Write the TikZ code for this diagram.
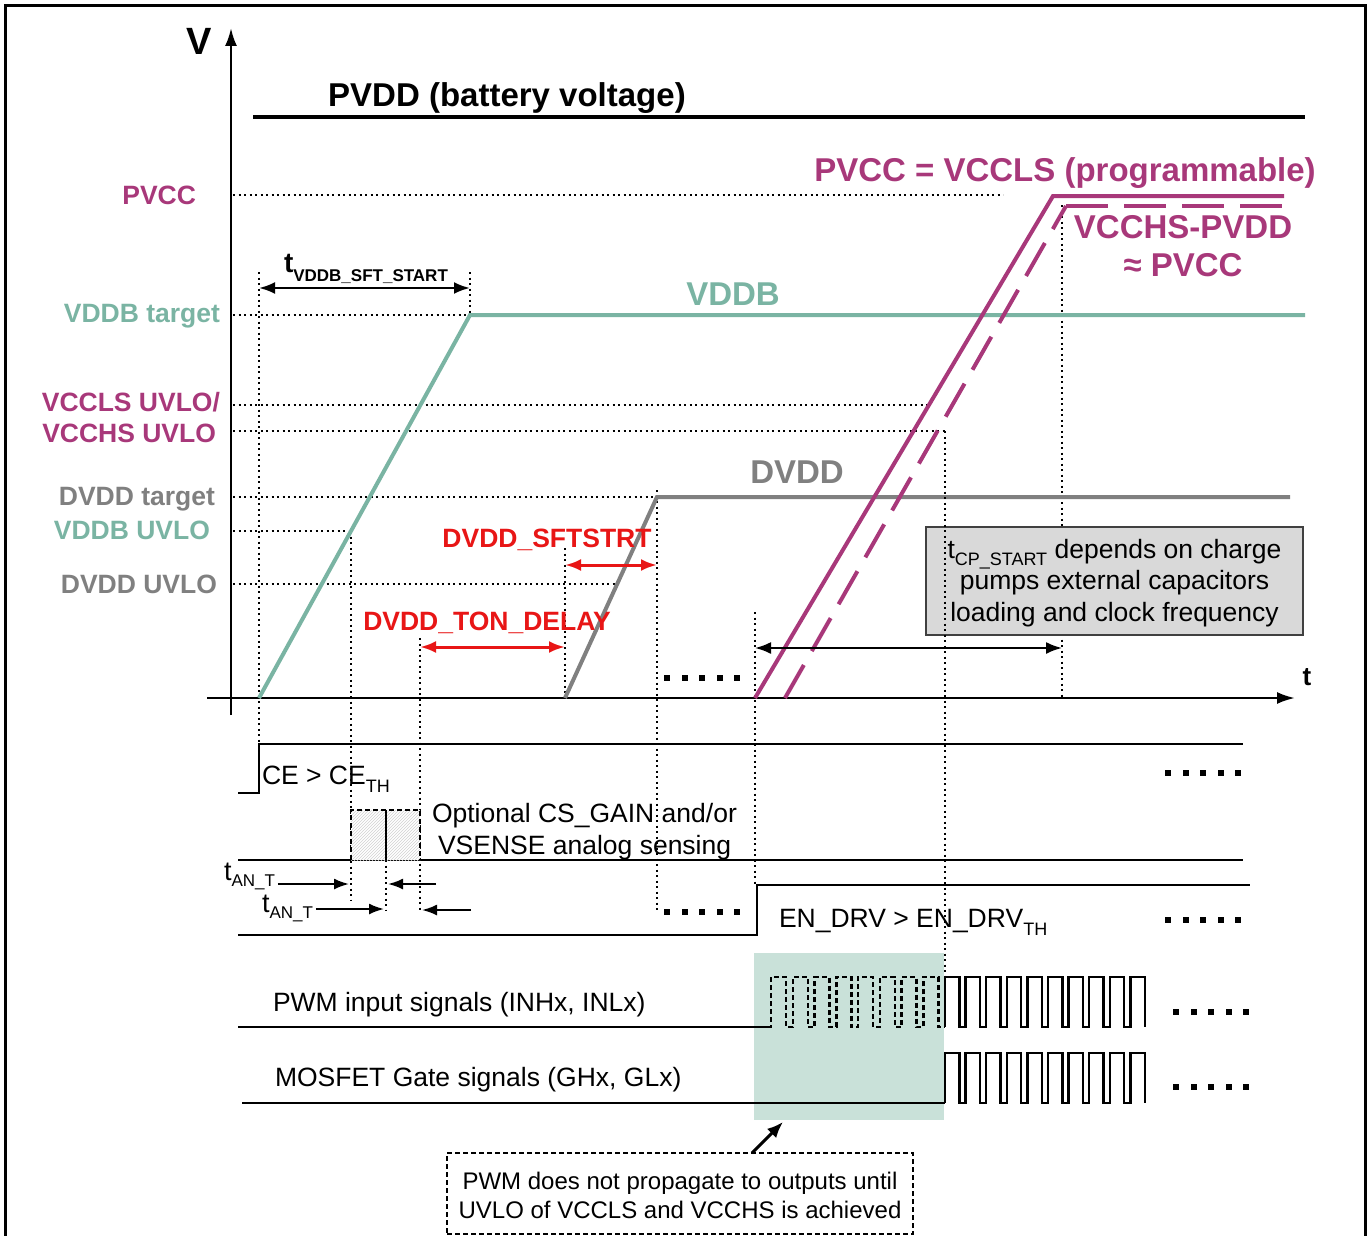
\documentclass[tikz,border=0pt]{standalone}
\usepackage{fontspec}
\setmainfont{Liberation Sans}
\usetikzlibrary{arrows.meta,patterns}
\definecolor{mag}{RGB}{168,56,122}
\definecolor{tealc}{RGB}{122,180,163}
\definecolor{dgray}{RGB}{128,128,128}
\definecolor{redc}{RGB}{232,22,22}
\definecolor{shadec}{RGB}{201,225,217}
\definecolor{boxgray}{RGB}{217,217,217}
\newcommand{\sbs}[1]{\raisebox{-0.28em}{\fontsize{18}{18}\selectfont #1}}
\begin{document}
\begin{tikzpicture}[x=1pt,y=-1pt,
  every node/.style={inner sep=0pt,outer sep=0pt},
  sig/.style={line width=2.8pt,line join=miter},
  dotl/.style={line width=2pt,dash pattern=on 2pt off 3.5pt},
  tdown/.style={yshift=-7pt},
  bigl/.style={font=\fontsize{33}{38}\selectfont\bfseries,tdown},
  lvl/.style={font=\fontsize{26.5}{30}\selectfont\bfseries,tdown},
  txt/.style={font=\fontsize{26.5}{31.5}\selectfont},
  tipa/.style={-{Latex[length=15pt,width=11pt]}},
  dtipa/.style={{Latex[length=16pt,width=12pt]}-{Latex[length=16pt,width=12pt]}},
]
\useasboundingbox (0,0) rectangle (1371,1236);
% frame
\draw[line width=3pt] (5,1236) -- (5,6) -- (1365,6) -- (1365,1236);

% shaded region
\fill[shadec] (754,953) rectangle (944,1120);

% key coordinates
\coordinate (v0) at (259,698); \coordinate (vtop) at (470,315); \coordinate (vend) at (1305,315);
\coordinate (d0) at (565,698); \coordinate (dtop) at (657,497); \coordinate (dend) at (1290,497);
\coordinate (p0) at (755,698); \coordinate (ptop) at (1053,196); \coordinate (pend) at (1284,196);
\coordinate (q0) at (785,698); \coordinate (qtop) at (1066,206); \coordinate (qend) at (1284,206);

% horizontal dotted level lines
\draw[dotl] (233,195) -- (1003,195);
\draw[dotl] (233,315) -- (470,315);
\draw[dotl] (233,405) -- (930,405);
\draw[dotl] (233,431) -- (945,431);
\draw[dotl] (233,497) -- (657,497);
\draw[dotl] (233,531) -- (351,531);
\draw[dotl] (233,584) -- (617,584);

% vertical dotted lines
\draw[dotl] (259,272) -- (259,744);
\draw[dotl] (470,272) -- (470,315);
\draw[dotl] (351,531) -- (351,900);
\draw[dotl] (386,860) -- (386,910);
\draw[dotl] (420,638) -- (420,912);
\draw[dotl] (565,548) -- (565,698);
\draw[dotl] (657,490) -- (657,912);
\draw[dotl] (755,612) -- (755,885);
\draw[dotl] (1062,205) -- (1062,698);

% axes
\draw[line width=2.5pt,-{Latex[length=18pt,width=12pt]}] (231,715) -- (231,28);
\draw[line width=2.5pt,-{Latex[length=18pt,width=12pt]}] (207,698) -- (1295,698);
\node[font=\fontsize{38}{40}\selectfont\bfseries,anchor=mid,yshift=-10pt] (vlab) at (199,42) {V};
\node[font=\fontsize{26}{28}\selectfont\bfseries,anchor=mid,tdown] (tlab) at (1307,676) {t};

% PVDD
\draw[line width=4pt] (253,117) -- (1305,117);
\node[bigl,anchor=mid] (pvdd) at (507,97) {PVDD (battery voltage)};

% ramps
\draw[tealc,line width=4pt,line join=miter] (v0) -- (vtop) -- (vend);
\draw[dgray,line width=4pt,line join=miter] (d0) -- (dtop) -- (dend);
\draw[mag,line width=4pt,line join=miter] (p0) -- (ptop) -- (pend);
\draw[mag,line width=4pt,dash pattern=on 38pt off 16pt] (q0) -- (qtop);
\draw[mag,line width=4pt,dash pattern=on 42pt off 16pt] (qtop) -- (qend);

% level labels
\node[lvl,mag,anchor=mid east] (lpvcc) at (196,195) {PVCC};
\node[lvl,tealc,anchor=mid east] (lvddbt) at (220,313) {VDDB target};
\node[lvl,mag,anchor=mid east] (lvccls) at (220,402) {VCCLS UVLO/};
\node[lvl,mag,anchor=mid east] (lvcchs) at (216,433) {VCCHS UVLO};
\node[lvl,dgray,anchor=mid east] (ldvddt) at (215,496) {DVDD target};
\node[lvl,tealc,anchor=mid east] (lvddbu) at (210,530) {VDDB UVLO};
\node[lvl,dgray,anchor=mid east] (ldvddu) at (217,584) {DVDD UVLO};

% curve labels
\node[bigl,mag,anchor=mid] (lprog) at (1065,172) {PVCC = VCCLS (programmable)};
\node[bigl,mag,anchor=mid] (lvcchsp) at (1183,229) {VCCHS-PVDD};
\node[bigl,mag,anchor=mid] (lapprox) at (1183,267) {≈ PVCC};
\node[bigl,tealc,anchor=mid] (lvddb) at (733,296) {VDDB};
\node[bigl,dgray,anchor=mid] (ldvdd) at (797,474) {DVDD};

% tVDDB_SFT_START
\coordinate (sa) at (259,288); \coordinate (sb) at (470,288);
\draw[line width=2.5pt,dtipa] (sa) -- (sb);
\node[font=\fontsize{28}{30}\selectfont\bfseries,anchor=mid west,yshift=-3pt] (ltv) at (284,267) {t\raisebox{-0.3em}{\fontsize{17}{17}\selectfont\bfseries VDDB\_SFT\_START}};

% red annotations
\node[lvl,redc,anchor=mid] (lsft) at (547,538) {DVDD\_SFTSTRT};
\node[lvl,redc,anchor=mid] (lton) at (487,621) {DVDD\_TON\_DELAY};
\coordinate (ra1) at (565,565); \coordinate (ra2) at (657,565);
\coordinate (rb1) at (420,647); \coordinate (rb2) at (565,647);
\draw[redc,line width=3pt,dtipa] (ra1) -- (ra2);
\draw[redc,line width=3pt,dtipa] (rb1) -- (rb2);

% tCP_START box
\node[draw=black!75,line width=2pt,fill=boxgray,minimum width=377pt,minimum height=108pt,anchor=center] (cpbox) at (1114.5,581) {};
\node[txt,align=center,anchor=center] (cptext) at (1114.5,583) {t\sbs{CP\_START} depends on charge\\pumps external capacitors\\loading and clock frequency};
\draw[dotl] (945,431) -- (945,1000);
\coordinate (ca1) at (755,648); \coordinate (ca2) at (1062,648);
\draw[line width=2pt,dtipa] (ca1) -- (ca2);

% continuation dots
\foreach \y/\x in {678/667, 912/667, 773/1168, 920/1168, 1012/1176, 1087/1176}{
  \foreach \i in {0,...,4}{
    \fill ({\x+17.5*\i-3},{\y-3}) rectangle ({\x+17.5*\i+3},{\y+3});
  }
}

% CE signal
\draw[sig] (238,793) -- (259,793) -- (259,744) -- (1243,744);
\node[txt,anchor=mid west,tdown] (lce) at (262,775) {CE > CE\sbs{TH}};

% analog sensing
\draw[sig] (238,860) -- (1243,860);
\fill[white] (351,810) rectangle (420,860);
\fill[pattern=north east lines,pattern color=black!18] (351,810) rectangle (420,860);
\draw[line width=2pt,dash pattern=on 5pt off 3pt] (351,860) -- (351,810) -- (420,810) -- (420,860);
\draw[line width=2.5pt] (386,810) -- (386,860);
\node[txt,anchor=mid west,tdown] (lopt1) at (432,813) {Optional CS\_GAIN and/or};
\node[txt,anchor=mid west,tdown] (lopt2) at (438,845) {VSENSE analog sensing};

% tAN_T arrows
\node[font=\fontsize{27}{28}\selectfont,anchor=mid west,yshift=-1pt] (tan1) at (224,877) {t\raisebox{-0.2em}{\fontsize{17}{17}\selectfont AN\_T}};
\node[font=\fontsize{27}{28}\selectfont,anchor=mid west,yshift=-4pt] (tan2) at (262,906) {t\raisebox{-0.2em}{\fontsize{17}{17}\selectfont AN\_T}};
\coordinate (an1) at (349,884); \coordinate (an2) at (384,909);
\coordinate (an3s) at (436,884); \coordinate (an3) at (388,884);
\coordinate (an4s) at (471,910); \coordinate (an4) at (422,910);
\draw[line width=2pt,tipa] (tan1.east |- an1) ++(3,0) -- (an1);
\draw[line width=2pt,tipa] (tan2.east |- an2) ++(3,0) -- (an2);
\draw[line width=2pt,tipa] (an3s) -- (an3);
\draw[line width=2pt,tipa] (an4s) -- (an4);

% EN_DRV
\draw[sig] (238,935) -- (757,935) -- (757,885) -- (1250,885);
\node[txt,anchor=mid west,tdown] (len) at (779,918) {EN\_DRV > EN\_DRV\sbs{TH}};

% PWM input
\draw[sig] (238,1027) -- (768,1027);
\draw[line width=2.5pt,dash pattern=on 5pt off 3pt]
  (768,1027) \foreach \i in {0,...,7}{ -- ({771+21.75*\i},1027) -- ({771+21.75*\i},977) -- ({786+21.75*\i},977) -- ({786+21.75*\i},1027) } -- (945,1027);
\draw[line width=2.5pt]
  (945,1027) \foreach \i in {0,...,9}{ -- ({945+20.6*\i},1027) -- ({945+20.6*\i},977) -- ({959.4+20.6*\i},977) -- ({959.4+20.6*\i},1027) };
\node[txt,anchor=mid west,tdown] (lpwm) at (273,1002) {PWM input signals (INHx, INLx)};

% MOSFET gate
\draw[sig] (242,1103) -- (945,1103);
\draw[line width=2.5pt]
  (945,1103) \foreach \i in {0,...,9}{ -- ({945+20.6*\i},1103) -- ({945+20.6*\i},1053) -- ({959.4+20.6*\i},1053) -- ({959.4+20.6*\i},1103) };
\node[txt,anchor=mid west,tdown] (lmos) at (275,1077) {MOSFET Gate signals (GHx, GLx)};

% note box
\node[draw,line width=2pt,dash pattern=on 5pt off 3pt,minimum width=466pt,minimum height=81pt,anchor=center] (note) at (680,1193.5) {};
\node[font=\fontsize{24}{29}\selectfont,align=center,anchor=center] (notetext) at (680,1195) {PWM does not propagate to outputs until\\UVLO of VCCLS and VCCHS is achieved};
\coordinate (shcorner) at (783,1122);
\draw[line width=3pt,-{Latex[length=16pt,width=13pt]}] (752,1153) -- (shcorner);
\end{tikzpicture}
\end{document}
